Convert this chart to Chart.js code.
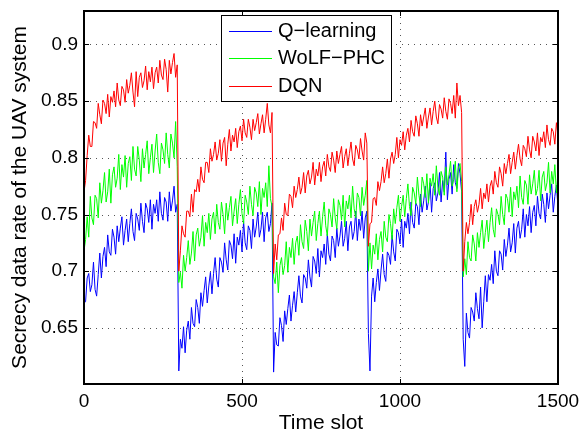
<!DOCTYPE html>
<html>
<head>
<meta charset="utf-8">
<script src="https://cdn.jsdelivr.net/npm/chart.js@4.4.1/dist/chart.umd.min.js"></script>
<style>
  html, body { margin: 0; padding: 0; background: #fff; }
  canvas { display: block; }
</style>
</head>
<body>
<canvas id="chart" width="585" height="438"></canvas>
<script>
// ======= Data =======
const seriesNames = ["Q\u2212learning", "WoLF\u2212PHC", "DQN"];
const xTicks = [0, 500, 1000, 1500];
const yTicks = [0.65, 0.7, 0.75, 0.8, 0.85, 0.9];
const slotStep = 5;   // one stored sample every 5 time slots

const qLearning = [
  0.672,0.673,0.694,0.698,0.682,0.688,0.708,0.684,0.678,0.697,
  0.716,0.694,0.713,0.721,0.704,0.732,0.717,0.714,0.737,0.730,
  0.715,0.740,0.726,0.738,0.748,0.723,0.736,0.746,0.726,0.742,
  0.755,0.735,0.727,0.751,0.746,0.736,0.760,0.744,0.734,0.760,
  0.755,0.743,0.763,0.737,0.759,0.751,0.763,0.744,0.770,0.751,
  0.745,0.765,0.761,0.744,0.770,0.753,0.762,0.775,0.752,0.759,
  0.612,0.640,0.632,0.651,0.628,0.648,0.656,0.640,0.668,0.654,
  0.651,0.675,0.668,0.654,0.681,0.669,0.683,0.695,0.672,0.687,
  0.699,0.680,0.698,0.712,0.693,0.686,0.712,0.708,0.699,0.725,
  0.710,0.701,0.727,0.723,0.711,0.733,0.707,0.730,0.723,0.736,
  0.717,0.744,0.725,0.719,0.740,0.736,0.720,0.746,0.730,0.739,
  0.752,0.730,0.737,0.752,0.726,0.747,0.752,0.735,0.742,0.760,
  0.611,0.646,0.635,0.634,0.659,0.652,0.638,0.665,0.653,0.667,
  0.679,0.656,0.670,0.682,0.664,0.681,0.696,0.678,0.672,0.697,
  0.694,0.685,0.710,0.695,0.686,0.713,0.709,0.698,0.720,0.695,
  0.718,0.712,0.724,0.706,0.733,0.715,0.709,0.731,0.727,0.712,
  0.738,0.722,0.731,0.744,0.722,0.729,0.744,0.718,0.739,0.744,
  0.728,0.735,0.753,0.727,0.746,0.736,0.753,0.729,0.747,0.753,
  0.645,0.612,0.678,0.694,0.673,0.690,0.702,0.683,0.701,0.715,
  0.697,0.691,0.717,0.714,0.706,0.732,0.717,0.709,0.737,0.734,
  0.724,0.746,0.721,0.744,0.738,0.751,0.733,0.761,0.743,0.738,
  0.760,0.757,0.741,0.768,0.752,0.762,0.775,0.754,0.761,0.778,
  0.752,0.773,0.778,0.762,0.769,0.787,0.761,0.780,0.770,0.805,
  0.763,0.781,0.787,0.768,0.794,0.778,0.773,0.795,0.786,0.770,
  0.640,0.616,0.663,0.646,0.641,0.668,0.664,0.656,0.681,0.667,
  0.658,0.686,0.650,0.673,0.696,0.673,0.697,0.692,0.706,0.689,
  0.718,0.700,0.696,0.718,0.715,0.701,0.728,0.713,0.723,0.738,
  0.717,0.725,0.742,0.716,0.738,0.744,0.729,0.737,0.755,0.730,
  0.750,0.740,0.757,0.734,0.752,0.758,0.740,0.766,0.751,0.746,
  0.768,0.759,0.743,0.769,0.755,0.767,0.777,0.752,0.766,0.776,
  0.756
];

const wolfPhc = [
  0.718,0.728,0.748,0.730,0.766,0.747,0.741,0.767,0.764,0.747,
  0.778,0.760,0.771,0.787,0.761,0.770,0.790,0.760,0.785,0.792,
  0.774,0.782,0.803,0.772,0.794,0.783,0.802,0.774,0.795,0.801,
  0.780,0.810,0.790,0.784,0.810,0.798,0.779,0.808,0.791,0.803,
  0.815,0.786,0.800,0.812,0.787,0.806,0.821,0.796,0.786,0.813,
  0.807,0.795,0.822,0.803,0.791,0.821,0.813,0.800,0.832,0.792,
  0.690,0.699,0.685,0.714,0.700,0.712,0.727,0.706,0.716,0.735,
  0.709,0.732,0.738,0.722,0.730,0.749,0.722,0.743,0.734,0.751,
  0.728,0.746,0.752,0.733,0.759,0.743,0.737,0.761,0.750,0.733,
  0.760,0.745,0.756,0.766,0.740,0.753,0.764,0.742,0.759,0.772,
  0.751,0.742,0.767,0.761,0.750,0.775,0.759,0.749,0.774,0.769,
  0.757,0.779,0.750,0.773,0.765,0.778,0.757,0.793,0.764,0.757,
  0.695,0.689,0.708,0.681,0.705,0.712,0.697,0.705,0.726,0.699,
  0.721,0.712,0.729,0.706,0.725,0.731,0.714,0.741,0.726,0.720,
  0.745,0.735,0.718,0.746,0.731,0.743,0.753,0.727,0.742,0.753,
  0.731,0.748,0.761,0.740,0.731,0.755,0.750,0.739,0.764,0.747,
  0.737,0.763,0.758,0.745,0.767,0.739,0.762,0.755,0.767,0.747,
  0.775,0.755,0.747,0.769,0.765,0.749,0.774,0.758,0.767,0.780,
  0.700,0.725,0.702,0.723,0.715,0.733,0.710,0.728,0.735,0.717,
  0.744,0.730,0.726,0.750,0.742,0.728,0.755,0.742,0.756,0.767,
  0.744,0.757,0.767,0.748,0.764,0.777,0.757,0.749,0.774,0.769,
  0.759,0.783,0.767,0.757,0.783,0.777,0.765,0.786,0.760,0.782,
  0.775,0.786,0.767,0.793,0.774,0.767,0.788,0.783,0.767,0.792,
  0.776,0.785,0.797,0.775,0.781,0.797,0.770,0.791,0.795,0.779,
  0.695,0.711,0.697,0.726,0.712,0.709,0.732,0.724,0.709,0.734,
  0.721,0.734,0.745,0.720,0.734,0.745,0.726,0.743,0.756,0.737,
  0.730,0.755,0.750,0.741,0.766,0.750,0.741,0.768,0.764,0.752,
  0.774,0.748,0.770,0.763,0.775,0.756,0.784,0.765,0.759,0.780,
  0.776,0.759,0.785,0.768,0.777,0.789,0.767,0.773,0.789,0.762,
  0.783,0.788,0.771,0.778,0.796,0.769,0.788,0.777,0.794,0.769,
  0.787
];

const dqn = [
  0.770,0.780,0.802,0.820,0.810,0.810,0.832,0.831,0.826,0.848,
  0.838,0.830,0.851,0.848,0.839,0.856,0.836,0.854,0.849,0.859,
  0.845,0.866,0.851,0.846,0.863,0.860,0.849,0.869,0.857,0.864,
  0.875,0.858,0.845,0.876,0.854,0.871,0.875,0.862,0.868,0.881,
  0.860,0.876,0.867,0.880,0.861,0.875,0.880,0.866,0.886,0.873,
  0.869,0.887,0.878,0.858,0.886,0.874,0.884,0.892,0.871,0.882,
  0.700,0.718,0.740,0.733,0.730,0.753,0.753,0.748,0.768,0.752,
  0.772,0.770,0.781,0.770,0.792,0.781,0.778,0.796,0.796,0.787,
  0.808,0.797,0.803,0.814,0.798,0.804,0.816,0.797,0.813,0.818,
  0.793,0.812,0.825,0.806,0.820,0.814,0.826,0.809,0.823,0.828,
  0.815,0.834,0.822,0.818,0.834,0.827,0.816,0.834,0.824,0.831,
  0.839,0.821,0.830,0.838,0.822,0.834,0.848,0.829,0.822,0.840,
  0.698,0.724,0.710,0.732,0.733,0.747,0.736,0.760,0.750,0.749,
  0.768,0.766,0.756,0.775,0.765,0.772,0.783,0.768,0.774,0.787,
  0.769,0.784,0.789,0.777,0.783,0.796,0.776,0.790,0.784,0.796,
  0.779,0.792,0.797,0.784,0.803,0.792,0.788,0.805,0.798,0.787,
  0.806,0.795,0.803,0.810,0.791,0.801,0.808,0.793,0.804,0.814,
  0.799,0.793,0.811,0.807,0.799,0.817,0.806,0.798,0.822,0.813,
  0.722,0.742,0.743,0.764,0.765,0.758,0.779,0.771,0.779,0.792,
  0.778,0.786,0.799,0.782,0.799,0.805,0.795,0.803,0.818,0.800,
  0.816,0.811,0.823,0.807,0.820,0.826,0.814,0.833,0.823,0.819,
  0.837,0.830,0.819,0.838,0.828,0.836,0.844,0.826,0.836,0.844,
  0.829,0.841,0.850,0.836,0.830,0.847,0.843,0.835,0.853,0.841,
  0.834,0.852,0.848,0.839,0.855,0.835,0.866,0.846,0.855,0.840,
  0.700,0.726,0.743,0.733,0.743,0.759,0.741,0.757,0.763,0.752,
  0.759,0.773,0.755,0.769,0.764,0.777,0.761,0.775,0.780,0.768,
  0.788,0.778,0.774,0.792,0.786,0.775,0.795,0.786,0.795,0.803,
  0.786,0.796,0.805,0.790,0.802,0.812,0.799,0.793,0.811,0.808,
  0.801,0.819,0.807,0.800,0.819,0.814,0.806,0.822,0.802,0.818,
  0.814,0.823,0.809,0.829,0.816,0.811,0.826,0.823,0.812,0.831,
  0.820
];

// ======= Style =======
const lineColors = ["#0000ff", "#00ff00", "#ff0000"];
const FONT = "'Liberation Sans', Arial, Helvetica, sans-serif";

const toPoints = (arr) => arr.map((v, i) => ({ x: i * slotStep, y: v }));

// grid, inward ticks, box and legend, MATLAB style
const frame = {
  id: "frame",
  beforeDatasetsDraw(chart) {
    const { ctx, chartArea: a, scales: { x, y } } = chart;
    ctx.save();
    ctx.strokeStyle = "#555";
    ctx.lineWidth = 1;
    ctx.setLineDash([1, 5]);
    xTicks.slice(1, -1).forEach(v => {
      const px = Math.round(x.getPixelForValue(v)) + 0.5;
      ctx.beginPath(); ctx.moveTo(px, a.top); ctx.lineTo(px, a.bottom); ctx.stroke();
    });
    yTicks.forEach(v => {
      const py = Math.round(y.getPixelForValue(v)) + 0.5;
      ctx.beginPath(); ctx.moveTo(a.left, py); ctx.lineTo(a.right, py); ctx.stroke();
    });
    ctx.restore();
  },
  afterDatasetsDraw(chart) {
    const { ctx, chartArea: a, scales: { x, y } } = chart;
    ctx.save();
    ctx.strokeStyle = "#000";
    ctx.lineWidth = 1;
    const tl = 5;
    xTicks.slice(1, -1).forEach(v => {
      const px = Math.round(x.getPixelForValue(v)) + 0.5;
      ctx.beginPath();
      ctx.moveTo(px, a.bottom); ctx.lineTo(px, a.bottom - tl);
      ctx.moveTo(px, a.top); ctx.lineTo(px, a.top + tl);
      ctx.stroke();
    });
    yTicks.forEach(v => {
      const py = Math.round(y.getPixelForValue(v)) + 0.5;
      ctx.beginPath();
      ctx.moveTo(a.left, py); ctx.lineTo(a.left + tl, py);
      ctx.moveTo(a.right, py); ctx.lineTo(a.right - tl, py);
      ctx.stroke();
    });
    ctx.lineWidth = 2;
    ctx.strokeRect(a.left, a.top, a.right - a.left, a.bottom - a.top);

    // legend box
    const lx = 221.5, ly = 15.5, lw = 170, lh = 86;
    ctx.fillStyle = "#fff";
    ctx.fillRect(lx, ly, lw, lh);
    ctx.lineWidth = 1;
    ctx.strokeRect(lx, ly, lw, lh);
    ctx.font = "20px " + FONT;
    ctx.textBaseline = "middle";
    ctx.textAlign = "left";
    chart.data.datasets.forEach((ds, i) => {
      const ry = Math.round(31 + i * 27.3) + 0.5;
      ctx.strokeStyle = ds.borderColor;
      ctx.beginPath(); ctx.moveTo(229, ry); ctx.lineTo(272, ry); ctx.stroke();
      ctx.fillStyle = "#000";
      ctx.fillText(ds.label, 278, ry);
    });
    ctx.restore();
  }
};

new Chart(document.getElementById("chart"), {
  type: "line",
  data: {
    datasets: [qLearning, wolfPhc, dqn].map((arr, i) => ({
      label: seriesNames[i],
      data: toPoints(arr),
      borderColor: lineColors[i],
      borderWidth: 1,
      pointRadius: 0,
      tension: 0,
      order: 2 - i
    }))
  },
  options: {
    responsive: false,
    animation: false,
    devicePixelRatio: 1,
    layout: { padding: { top: 11, right: 27, bottom: 0, left: 0 } },
    plugins: { legend: { display: false }, tooltip: { enabled: false } },
    scales: {
      x: {
        type: "linear",
        min: 0, max: 1500,
        grid: { display: false, drawTicks: false },
        border: { display: false },
        afterBuildTicks: (s) => { s.ticks = xTicks.map(v => ({ value: v })); },
        afterFit: (s) => { s.height = 54; s.paddingLeft = 0; s.paddingRight = 0; },
        ticks: { color: "#000", padding: 6, font: { family: FONT, size: 19 }, maxRotation: 0,
                 callback: (v) => String(v) },
        title: { display: true, text: "Time slot", color: "#000",
                 font: { family: FONT, size: 21 }, padding: { top: 0, bottom: 2 } }
      },
      y: {
        min: 0.6005, max: 0.9295,
        grid: { display: false, drawTicks: false },
        border: { display: false },
        afterBuildTicks: (s) => { s.ticks = yTicks.map(v => ({ value: v })); },
        afterFit: (s) => { s.width = 84; s.paddingTop = 0; s.paddingBottom = 0; },
        ticks: { color: "#000", padding: 6, font: { family: FONT, size: 19 },
                 callback: (v) => String(+Number(v).toFixed(2)) },
        title: { display: true, text: "Secrecy data rate of the UAV system", color: "#000",
                 font: { family: FONT, size: 21 }, padding: { top: 8, bottom: 0 } }
      }
    }
  },
  plugins: [frame]
});
</script>
</body>
</html>
